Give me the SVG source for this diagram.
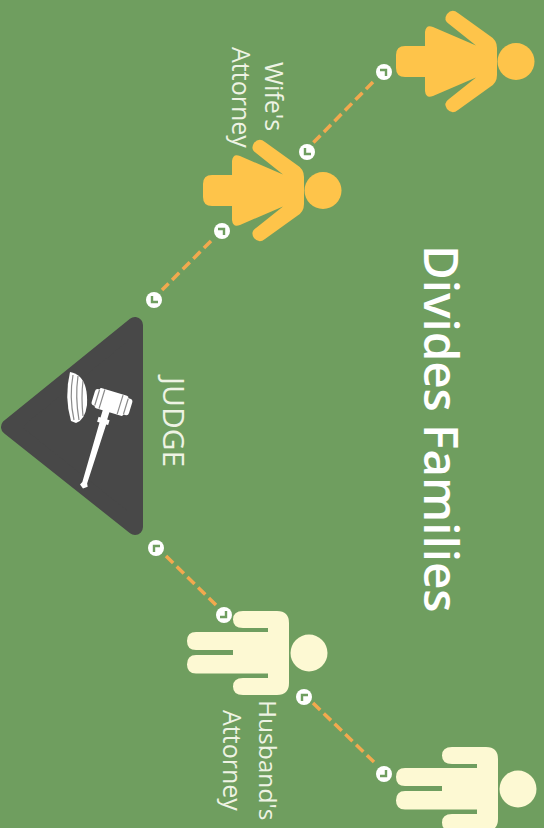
<svg xmlns="http://www.w3.org/2000/svg" width="544" height="828" viewBox="0 0 544 828">
<style>
.t{font-family:"Open Sans","Noto Sans",sans-serif;fill:#fff}
.l{font-size:25px;font-weight:400;fill:#eef3e4}
.c{stroke:#f2a94e;stroke-width:3.500;stroke-dasharray:10 5;fill:none}
.d{fill:#fff}
.m{stroke:#6f9e5f;stroke-width:2.400;fill:none}
.g{fill:#fff}
.s{stroke:#8a8a8a;stroke-width:1.200;fill:none}
</style>
<defs>
<g id="f"><circle cx="516" cy="61.500" r="18.500"/><path d="M497,48 Q497,40 490,36 L458,13 Q452,8 447,14 Q443,20 449,24 L476,45.500 L433,27 Q426,24 425,32 V46 H405 Q396,46 396,55 V68 Q396,77 405,77 H425 V91 Q426,99 433,96 L476,77.500 L449,99 Q443,103 447,109 Q452,115 458,110 L490,87 Q497,83 497,75 Z"/></g>
<g id="h"><circle cx="518" cy="789" r="18.500"/><path d="M452,747 H486 Q498,747 498,759 V819 Q498,831 486,831 H452 Q442,831 442,822.500 Q442,814 452,814 H477 V809.500 H405 Q396,809.500 396,800.500 Q396,791 405,791 H442 V786 H405 Q396,786 396,777 Q396,768 405,768 H477 V764 H452 Q442,764 442,755.500 Q442,747 452,747 Z"/></g>
<path id="k" d="M-4,-2 H2 V4" class="m"/>
<path id="n" d="M-2,-4 V2 H4" class="m"/>
<path id="p" d="M-2,4 V-2 H4" class="m"/>
<path id="q" d="M2,-4 V2 H-4" class="m"/>
</defs>
<rect width="544" height="828" fill="#6f9e5f"/>
<g id="connectors">
<path class="c" d="M373,82 L313,143"/>
<path class="c" d="M211,241 L162,290"/>
<path class="c" d="M166,556 L217,606"/>
<path class="c" d="M313,703 L374,762"/>
</g>
<g id="wife-person" fill="#fec44a"><use href="#f"/></g>
<g id="wife-attorney" fill="#fec44a"><use href="#f" transform="translate(-193,129)"/></g>
<g id="husband-attorney" fill="#fdf9d3"><use href="#h" transform="translate(-209,-136)"/></g>
<g id="husband-person" fill="#fdf9d3"><use href="#h"/></g>
<g id="judge">
<path d="M135,325 V527 L9,427 Z" fill="#484848" stroke="#484848" stroke-width="16" stroke-linejoin="round"/>
<g id="gavel">
<path class="g" d="M70,372 Q64,397 71,421 L76,423 Q85,420 87,405 Q88,385 80,377 Q76,373 70,372 Z"/>
<path class="s" d="M73,375 Q69,397 74,420 M78,376 Q75,397 79,420 M83,381 Q81,397 83,416"/>
<g transform="translate(111.500,402) rotate(17)">
<path class="g" d="M-3,0 H1 V18 H3.500 V23 H1.500 L0.500,85 L2,88 L-2,91 L-6,88 L-4.500,85 L-5.500,23 H-8 V18 H-6 V0 Z"/>
<rect class="g" x="-15" y="-10.500" width="30" height="21" rx="2"/>
<rect class="g" x="-19" y="-8.500" width="39" height="17" rx="3"/>
<path class="s" d="M-10,-10 V10 M9,-10 V10 M-15,-8 V8 M15,-8 V8"/>
</g>
</g>
</g>
<g id="dots">
<circle class="d" cx="384" cy="72" r="8"/><use href="#k" x="384" y="72"/>
<circle class="d" cx="307" cy="152" r="8"/><use href="#n" x="307" y="152"/>
<circle class="d" cx="222" cy="231" r="8"/><use href="#k" x="222" y="231"/>
<circle class="d" cx="154" cy="300" r="8"/><use href="#n" x="154" y="300"/>
<circle class="d" cx="156" cy="548" r="8"/><use href="#p" x="156" y="548"/>
<circle class="d" cx="224" cy="615" r="8"/><use href="#q" x="224" y="615"/>
<circle class="d" cx="304" cy="697" r="8"/><use href="#p" x="304" y="697"/>
<circle class="d" cx="384" cy="774" r="8"/><use href="#q" x="384" y="774"/>
</g>
<g id="labels">
<text class="t" font-size="47.500" font-weight="600" transform="translate(424,245) rotate(90)">Divides Families</text>
<text class="t l" style="font-size:30px" transform="translate(163,377) rotate(90)">JUDGE</text>
<text class="t l" transform="translate(265,62) rotate(90)">Wife's</text>
<text class="t l" transform="translate(232,47) rotate(90)">Attorney</text>
<text class="t l" style="font-size:24.500px" transform="translate(259,700) rotate(90)">Husband's</text>
<text class="t l" transform="translate(223,710) rotate(90)">Attorney</text>
</g>
</svg>
